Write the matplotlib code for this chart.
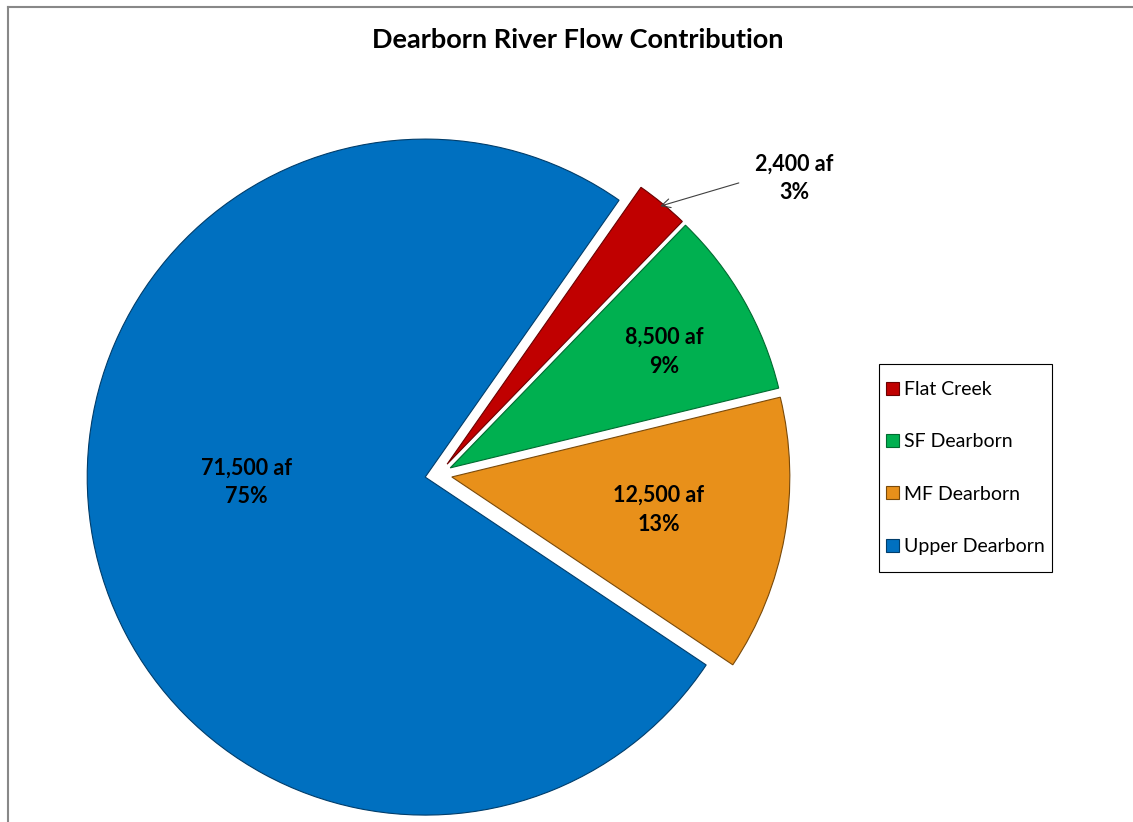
import matplotlib.pyplot as plt
from matplotlib.lines import Line2D
from matplotlib.patches import Rectangle
import numpy as np

# flow contribution by tributary (acre-feet)
names = ["Flat Creek", "SF Dearborn", "MF Dearborn", "Upper Dearborn"]
flows = [2400, 8500, 12500, 71500]
colors = ["#C00000", "#00B050", "#E8901A", "#0070C0"]
edges = ["#6b0000", "#006b30", "#7a4a0a", "#003d6b"]

plt.rcParams['font.family'] = ['Lato', 'DejaVu Sans']

W, H = 1133, 822
fig = plt.figure(figsize=(W / 100, H / 100), dpi=100)

# pie centre (px) and radius (px)
cx, cy, R = 438.5, 474.6, 338.0
lim = 1.25
ax = fig.add_axes([(cx - lim * R) / W, (H - cy - lim * R) / H,
                   2 * lim * R / W, 2 * lim * R / H])

wedges, _ = ax.pie(flows, colors=colors, startangle=55, counterclock=False,
                   explode=[0.04] * 4, radius=1.0,
                   wedgeprops=dict(linewidth=0.8))
for w, ec in zip(wedges, edges):
    w.set_edgecolor(ec)
ax.set_xlim(-lim, lim)
ax.set_ylim(-lim, lim)
ax.set_aspect('auto')
ax.axis('off')

total = sum(flows)
pcts = [round(100 * f / total) for f in flows]
labels = ["{:,} af\n{}%".format(f, p) for f, p in zip(flows, pcts)]

# inside label placement: (radius fraction, angle shift deg) per slice
place = [None, (0.72, -1.3), (0.62, 1.0), (0.53, -9.0)]
for w, lab, pl in zip(wedges, labels, place):
    mid = np.deg2rad((w.theta1 + w.theta2) / 2)
    ox, oy = w.center
    if pl is None:
        tip = (ox + 0.99 * np.cos(mid), oy + 0.99 * np.sin(mid))
        ax.annotate(lab, xy=tip, xytext=(1.052, 0.877), ha='center', va='center',
                    fontsize=15.5, fontweight='bold', linespacing=1.45,
                    arrowprops=dict(arrowstyle='->', color='#404040', lw=0.8,
                                    mutation_scale=16,
                                    relpos=(0, 0.5), shrinkA=10, shrinkB=0))
        continue
    r, dth = pl
    a = mid + np.deg2rad(dth)
    ax.text(ox + r * np.cos(a), oy + r * np.sin(a), lab, ha='center', va='center',
            fontsize=15.5, fontweight='bold', linespacing=1.45)

fig.text(578 / W, 1 - 40 / H, "Dearborn River Flow Contribution", ha='center',
         va='center', fontsize=19.5, fontweight='bold')

leg = fig.legend(wedges, names, loc='upper left',
                 bbox_to_anchor=(886 / W, 1 - 381 / H), fontsize=14,
                 frameon=False, handlelength=0.65, handleheight=0.65,
                 handletextpad=0.3, labelspacing=1.82, borderpad=0,
                 borderaxespad=0)

# legend box with more room above and below than at the sides
fig.canvas.draw()
bb = leg.get_window_extent()
px, py = 7, 17
fig.add_artist(Rectangle(((bb.x0 - px) / W, (bb.y0 - py) / H),
                         (bb.width + 2 * px) / W, (bb.height + 2 * py) / H,
                         transform=fig.transFigure, fill=False,
                         edgecolor='black', lw=0.8))

# chart area border (top and left visible)
fig.add_artist(Line2D([8 / W, 1], [1 - 7 / H, 1 - 7 / H], color='#888888', lw=1.5))
fig.add_artist(Line2D([8 / W, 8 / W], [0, 1 - 7 / H], color='#888888', lw=1.5))

fig.savefig("out.png", dpi=100)
